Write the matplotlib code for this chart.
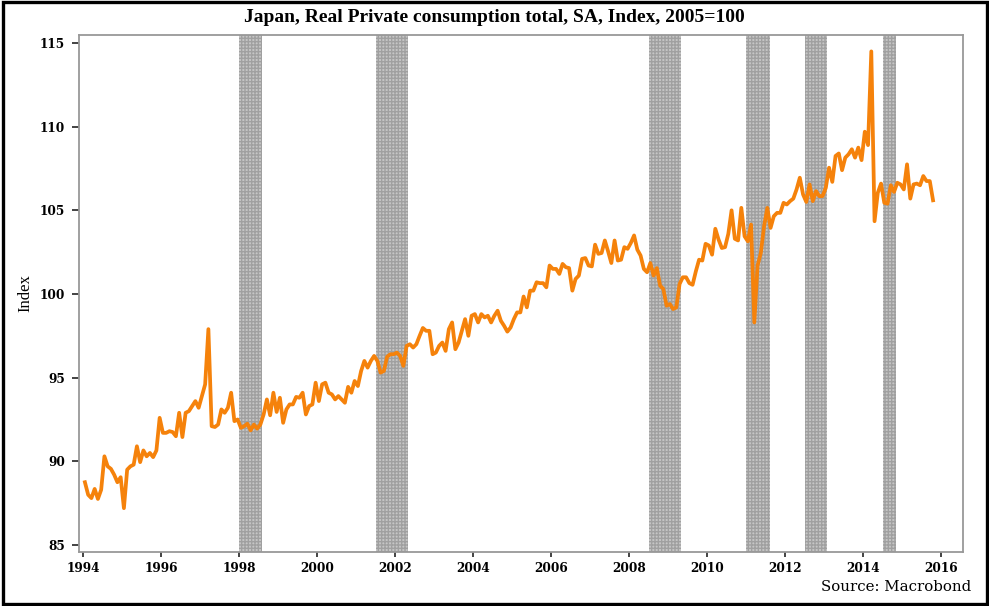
import matplotlib
matplotlib.use("Agg")
import matplotlib.pyplot as plt
from matplotlib.patches import Rectangle
import numpy as np

# monthly index values, Jan 1994 onwards
values = [
    # 1994-01 .. 1997-03
    88.75, 88.0, 87.8, 88.35, 87.75, 88.3, 90.3, 89.7, 89.55, 89.2, 88.75, 89.05,
    87.2, 89.5, 89.7, 89.8, 90.9, 89.95, 90.65, 90.3, 90.5, 90.25, 90.65, 92.6,
    91.7, 91.7, 91.8, 91.75, 91.5, 92.9, 91.45, 92.9, 93.0, 93.3, 93.6, 93.2,
    93.9, 94.6, 97.9,
    # 1997-04 .. 1999-08
    92.1, 92.05, 92.2, 93.1, 92.9, 93.2, 94.1, 92.4, 92.5,
    92.0, 92.1, 92.25, 91.85, 92.2, 91.95, 92.2, 92.8, 93.7, 92.75, 94.1, 92.95,
    93.8, 92.3, 93.1, 93.4, 93.4, 93.85, 93.8, 94.1,
    # 1999-09 .. 2005-04
    92.8, 93.3, 93.4, 94.7, 93.6, 94.6, 94.7, 94.1, 94.0, 93.7, 93.9, 93.7,
    93.5, 94.45, 94.1, 94.8, 94.5, 95.4, 96.0, 95.6, 96.0, 96.3, 96.0, 95.3,
    95.4, 96.25, 96.4, 96.4, 96.5, 96.3, 95.7, 96.9, 97.0, 96.8, 97.0, 97.5,
    97.97, 97.8, 97.8, 96.4, 96.5, 96.9, 97.1, 96.6, 97.9, 98.3, 96.7, 97.1,
    97.8, 98.5, 97.5, 98.7, 98.8, 98.3, 98.8, 98.6, 98.7, 98.3, 98.7, 99.0,
    98.4, 98.1, 97.75, 98.0, 98.5, 98.9, 98.9, 99.85,
    # 2005-05 .. 2011-02
    99.2, 100.2, 100.2, 100.7, 100.65, 100.65, 100.4, 101.7, 101.5, 101.5,
    101.2, 101.8, 101.6, 101.55, 100.2, 100.9, 101.1, 102.1, 102.15, 101.7,
    101.65, 102.95, 102.4, 102.45, 103.2, 102.55, 101.85, 103.2, 102.0, 102.05,
    102.8, 102.7, 103.05, 103.5, 102.65, 102.3, 101.5, 101.3, 101.85, 101.1,
    101.55, 100.5, 100.3, 99.3, 99.4, 99.1, 99.2, 100.6, 101.0, 101.0,
    100.65, 100.55, 101.35, 102.05, 102.0, 103.0, 102.9, 102.35, 103.9, 103.25,
    102.75, 102.8, 103.6, 105.0, 103.3, 103.2, 105.15, 103.45, 103.15, 104.15,
    # 2011-03 .. 2015-10
    98.3, 101.7, 102.45, 104.05, 105.15, 103.95, 104.65, 104.85, 104.85, 105.45,
    105.35, 105.55, 105.7, 106.25, 106.95, 105.95, 105.5, 106.55, 105.55, 106.15,
    105.85, 105.85, 106.35, 107.55, 106.7, 108.25, 108.4, 107.4, 108.15, 108.35,
    108.65, 108.15, 108.75, 108.0, 109.7, 108.9, 114.5, 104.35, 106.05, 106.6,
    105.45, 105.4, 106.5, 106.1, 106.65, 106.55, 106.25, 107.75, 105.7, 106.55,
    106.6, 106.5, 107.05, 106.75, 106.75, 105.6,
]
start_year = 1994

# shaded periods (decimal years)
shade_start = [1998.0, 2001.5, 2008.5, 2011.0, 2012.5, 2014.5]
shade_end = [1998.58, 2002.33, 2009.33, 2011.62, 2013.08, 2014.84]

x_ticks = list(range(1994, 2017, 2))
y_ticks = [85, 90, 95, 100, 105, 110, 115]

title = "Japan, Real Private consumption total, SA, Index, 2005=100"
source = "Source: Macrobond"

line_color = "#f5820b"
spine_color = "#999999"

dates = start_year + (np.arange(len(values)) + 0.5) / 12

fig = plt.figure(figsize=(9.89, 6.06), dpi=100)
fig.set_facecolor("white")
ax = fig.add_axes([79 / 989, 1 - 552 / 606, (963 - 79) / 989, (552 - 35) / 606])

for s, e in zip(shade_start, shade_end):
    ax.axvspan(s, e, facecolor="#c6c6c6", edgecolor="#a0a0a0",
               hatch="+++++", linewidth=0, zorder=1)

ax.plot(dates, values, color=line_color, linewidth=2.7,
        solid_joinstyle="round", zorder=3)

ax.set_xlim(1993.89, 2016.56)
ax.set_ylim(84.58, 115.48)
ax.set_xticks(x_ticks)
ax.set_yticks(y_ticks)

tick_font = dict(family="DejaVu Serif", weight="bold", size=8.7)
ax.set_xticklabels([str(t) for t in x_ticks], **tick_font)
ax.set_yticklabels([str(t) for t in y_ticks], **tick_font)
ax.tick_params(axis="y", length=5, width=1.2, color="#222222", pad=5)
ax.tick_params(axis="x", length=3.5, width=1.2, color="#222222", pad=4)

for sp in ax.spines.values():
    sp.set_color(spine_color)
    sp.set_linewidth(1.3)

ax.set_ylabel("Index", family="Liberation Serif", size=12)
ax.yaxis.set_label_coords(-0.052, 0.5)

fig.text(0.5, 1 - 18 / 606, title, ha="center", va="center",
         family="Liberation Serif", weight="bold", size=14)
fig.text(971 / 989, 1 - 587 / 606, source, ha="right", va="center",
         family="DejaVu Serif", size=10.8)

fig.patches.append(Rectangle((3 / 989, 2 / 606), 984 / 989, 602 / 606,
                             transform=fig.transFigure, fill=False,
                             edgecolor="black", linewidth=2.4))

fig.savefig("out.png", dpi=100)
